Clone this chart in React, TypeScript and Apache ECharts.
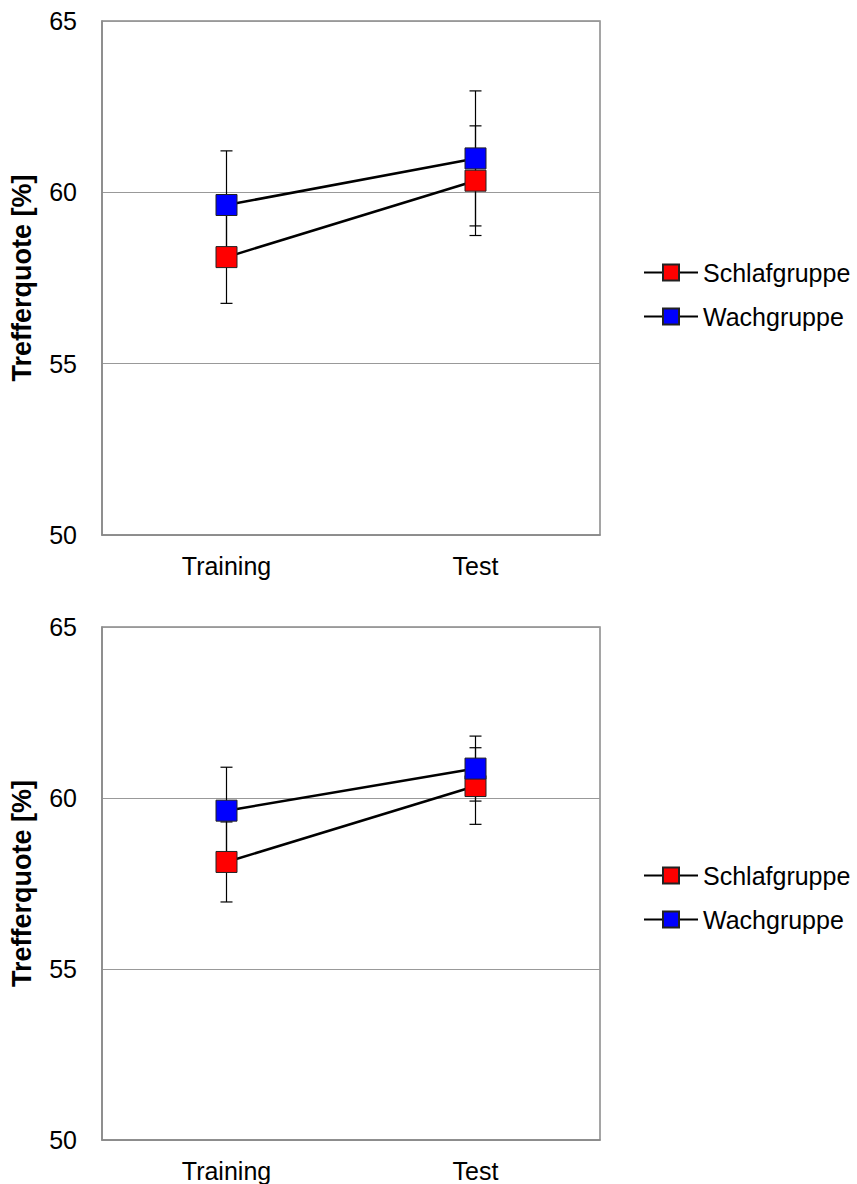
import React, { useEffect, useRef } from "react";
import * as echarts from "echarts";

const categories = ["Training", "Test"];
const yTicks = [50, 55, 60, 65];

// Chart 1 (top)
const schlaf1 = [58.11, 60.34];
const schlaf1Err = [1.35, 1.6];
const wach1 = [59.63, 60.99];
const wach1Err = [1.58, 1.97];

// Chart 2 (bottom)
const schlaf2 = [58.13, 60.35];
const schlaf2Err = [1.17, 1.12];
const wach2 = [59.63, 60.86];
const wach2Err = [1.27, 0.95];

const seriesNames = ["Schlafgruppe", "Wachgruppe"];
const seriesColors = ["#FF0000", "#0000FF"];

const FONT = "Liberation Sans, Arial, sans-serif";

function errData(means: number[], errs: number[]) {
  return means.map((m, i) => [i, m - errs[i], m + errs[i]]);
}

function errorSeries(idx: number, means: number[], errs: number[]) {
  return {
    type: "custom",
    xAxisIndex: idx,
    yAxisIndex: idx,
    z: 1,
    silent: true,
    encode: { x: 0, y: [1, 2] },
    data: errData(means, errs),
    renderItem: (params: any, api: any) => {
      const x = api.value(0);
      const lo = api.value(1);
      const hi = api.value(2);
      const pHi = api.coord([x, hi]);
      const pLo = api.coord([x, lo]);
      const w = 6;
      const st = { stroke: "#000", lineWidth: 1.2 };
      return {
        type: "group",
        children: [
          { type: "line", shape: { x1: pHi[0], y1: pHi[1], x2: pLo[0], y2: pLo[1] }, style: st },
          { type: "line", shape: { x1: pHi[0] - w, y1: pHi[1], x2: pHi[0] + w, y2: pHi[1] }, style: st },
          { type: "line", shape: { x1: pLo[0] - w, y1: pLo[1], x2: pLo[0] + w, y2: pLo[1] }, style: st },
        ],
      };
    },
  };
}

function lineSeries(idx: number, name: string, color: string, data: number[]) {
  return {
    type: "line",
    name,
    xAxisIndex: idx,
    yAxisIndex: idx,
    z: 3,
    data,
    symbol: "rect",
    symbolSize: 21,
    lineStyle: { color: "#000", width: 2.5 },
    itemStyle: { color, borderColor: "#222", borderWidth: 1 },
  };
}

export default function App() {
  const ref = useRef<HTMLDivElement>(null);
  useEffect(() => {
    if (!ref.current) return;
    const chart = echarts.init(ref.current, null, { renderer: "svg" });
    const grids = [
      { left: 102, top: 21, width: 498, height: 514 },
      { left: 102, top: 627, width: 498, height: 513 },
    ];
    const xAxes = grids.map((_, i) => ({
      type: "category",
      gridIndex: i,
      data: categories,
      boundaryGap: true,
      axisLine: { show: true, lineStyle: { color: "#888", width: 1.5 } },
      axisTick: { show: false },
      axisLabel: { color: "#000", fontSize: 25, fontFamily: FONT, margin: 18 },
      splitLine: { show: false },
    }));
    const yAxes = grids.map((_, i) => ({
      type: "value",
      gridIndex: i,
      min: yTicks[0],
      max: yTicks[yTicks.length - 1],
      interval: 5,
      name: "Trefferquote [%]",
      nameLocation: "middle",
      nameGap: 67,
      nameTextStyle: { color: "#000", fontSize: 27, fontWeight: "bold", fontFamily: FONT },
      axisLine: { show: true, lineStyle: { color: "#888", width: 1.5 } },
      axisTick: { show: false },
      axisLabel: { color: "#000", fontSize: 25, fontFamily: FONT, margin: 25 },
      splitLine: { show: true, lineStyle: { color: "#999", width: 1.2 } },
    }));
    const legends = [255, 858].map((top) => ({
      orient: "vertical",
      left: 638,
      top,
      itemWidth: 54,
      itemHeight: 20,
      itemGap: 19,
      data: seriesNames,
      textStyle: { color: "#000", fontSize: 25, fontFamily: FONT },
    }));
    chart.setOption({
      animation: false,
      backgroundColor: "#fff",
      grid: grids.map((g) => ({ ...g, show: true, borderColor: "#888", borderWidth: 1.5, backgroundColor: "transparent" })),
      xAxis: xAxes,
      yAxis: yAxes,
      legend: legends,
      series: [
        errorSeries(0, schlaf1, schlaf1Err),
        errorSeries(0, wach1, wach1Err),
        lineSeries(0, seriesNames[0], seriesColors[0], schlaf1),
        lineSeries(0, seriesNames[1], seriesColors[1], wach1),
        errorSeries(1, schlaf2, schlaf2Err),
        errorSeries(1, wach2, wach2Err),
        lineSeries(1, seriesNames[0], seriesColors[0], schlaf2),
        lineSeries(1, seriesNames[1], seriesColors[1], wach2),
      ],
    });
    return () => chart.dispose();
  }, []);
  return (
    <div
      ref={ref}
      style={{ position: "absolute", left: 0, top: 0, width: 857, height: 1184 }}
    />
  );
}
